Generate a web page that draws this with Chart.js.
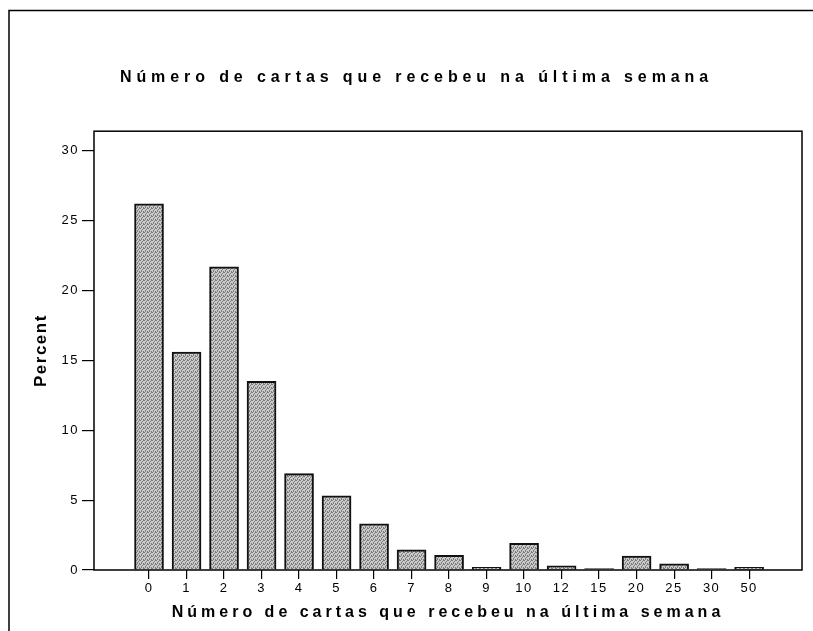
<!DOCTYPE html>
<html>
<head>
<meta charset="utf-8">
<script src="https://cdn.jsdelivr.net/npm/chart.js@4.4.1/dist/chart.umd.min.js"></script>
<style>
  html, body { margin: 0; padding: 0; background: #fff; }
  #wrap { width: 813px; height: 631px; }
</style>
</head>
<body>
<div id="wrap"><canvas id="cartasChart" width="813" height="631"></canvas></div>
<script>
// values
const xLabels = ['0', '1', '2', '3', '4', '5', '6', '7', '8', '9', '10', '12', '15', '20', '25', '30', '50'];
const percentValues = [26.2, 15.6, 21.7, 13.5, 6.9, 5.3, 3.3, 1.45, 1.05, 0.2, 1.9, 0.3, 0.1, 1.0, 0.45, 0.1, 0.2];
const yTicks = [0, 5, 10, 15, 20, 25, 30];

const titleText = 'Número de cartas que recebeu na última semana';
const FONT = "'Liberation Sans', Arial, sans-serif";

// stippled grey fill, like the printed bars
function makeStipple() {
    const c = document.createElement('canvas');
    c.width = 4; c.height = 4;
    const p = c.getContext('2d');
    p.fillStyle = '#cbcbcb';
    p.fillRect(0, 0, 4, 4);
    p.fillStyle = '#7c7c7c';
    [[0, 0], [2, 1], [1, 2], [3, 3], [3, 0], [1, 3]].forEach(([x, y]) => p.fillRect(x, y, 1, 1));
    return p.createPattern(c, 'repeat');
}

// letter spacing + frames
const scanLook = {
    id: 'scanLook',
    afterLayout(chart) {
        const ctx = chart.ctx;
        const tb = chart.titleBlock;
        if (tb && !tb._spaced) {
            const orig = tb.draw.bind(tb);
            tb.draw = function (...a) { ctx.letterSpacing = '4.9px'; orig(...a); ctx.letterSpacing = '1.5px'; };
            tb._spaced = true;
        }
        const xs = chart.scales.x;
        if (xs && !xs._spaced) {
            const orig = xs.drawTitle.bind(xs);
            xs.drawTitle = function (...a) { ctx.letterSpacing = '4px'; orig(...a); ctx.letterSpacing = '1.5px'; };
            xs._spaced = true;
        }
    },
    beforeDraw(chart) {
        const ctx = chart.ctx;
        ctx.letterSpacing = '1.5px';
        ctx.save();
        ctx.strokeStyle = '#000';
        ctx.lineWidth = 1.5;
        ctx.beginPath();
        ctx.moveTo(9, 631);
        ctx.lineTo(9, 10.5);
        ctx.lineTo(813, 10.5);
        ctx.stroke();
        ctx.restore();
    },
    afterDatasetsDraw(chart) {
        const { ctx, chartArea: a } = chart;
        ctx.save();
        ctx.strokeStyle = '#000';
        ctx.lineWidth = 1.5;
        ctx.strokeRect(a.left, a.top, a.right - a.left, a.bottom - a.top);
        ctx.restore();
    }
};

const ctx = document.getElementById('cartasChart').getContext('2d');
const stipple = makeStipple();

new Chart(ctx, {
    type: 'bar',
    data: {
        datasets: [{
            label: 'Percent',
            data: xLabels.map((l, i) => ({ x: i, y: percentValues[i] })),
            backgroundColor: stipple,
            borderColor: '#111',
            borderWidth: 2,
            barThickness: 29,
        }],
    },
    options: {
        responsive: false,
        animation: false,
        layout: { padding: { left: 31, right: 11, top: 0, bottom: 0 } },
        plugins: {
            legend: { display: false },
            tooltip: { enabled: false },
            title: {
                display: true,
                text: titleText,
                color: '#000',
                font: { family: FONT, size: 16, weight: 'bold' },
                padding: { top: 68, bottom: 44 },
            },
        },
        scales: {
            x: {
                type: 'linear',
                offset: false,
                min: -1.467,
                max: 17.41,
                afterBuildTicks: (scale) => { scale.ticks = xLabels.map((l, i) => ({ value: i })); },
                afterFit: (scale) => { scale.height = 61; },
                ticks: {
                    callback: (v) => xLabels[v],
                    color: '#000',
                    font: { family: FONT, size: 13 },
                    padding: 2,
                    maxRotation: 0,
                    autoSkip: false,
                },
                grid: { offset: false, drawOnChartArea: false, drawTicks: true, tickLength: 9, color: '#000', lineWidth: 1.2 },
                border: { display: false },
                title: {
                    display: true,
                    text: titleText,
                    color: '#000',
                    font: { family: FONT, size: 16, weight: 'bold' },
                    padding: { top: 0, bottom: 9 },
                },
            },
            y: {
                min: 0,
                max: 31.4,
                afterBuildTicks: (scale) => { scale.ticks = yTicks.map(v => ({ value: v })); },
                afterFit: (scale) => { scale.width = 63; },
                ticks: {
                    color: '#000',
                    font: { family: FONT, size: 13 },
                    padding: 3,
                },
                grid: { drawOnChartArea: false, drawTicks: true, tickLength: 12, color: '#000', lineWidth: 1.2 },
                border: { display: false },
                title: {
                    display: true,
                    text: 'Percent',
                    color: '#000',
                    font: { family: FONT, size: 17, weight: 'bold' },
                    padding: { top: 0, bottom: 0 },
                },
            },
        },
    },
    plugins: [scanLook],
});
</script>
</body>
</html>
